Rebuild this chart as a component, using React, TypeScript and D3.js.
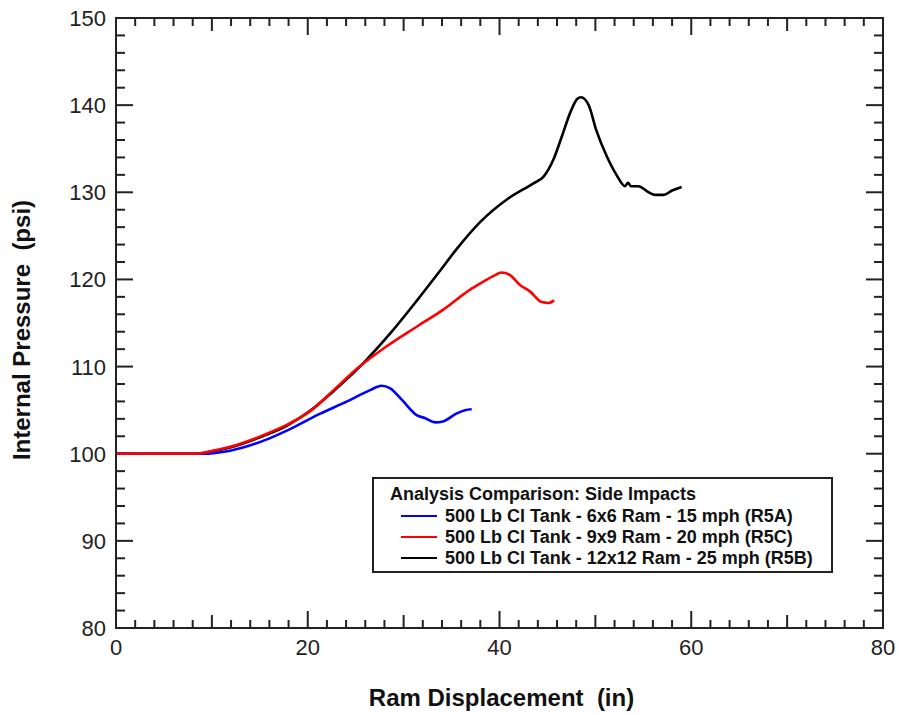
import React from "react";
import * as d3 from "d3";

const blueX = [0, 9, 11.9, 15.4, 18.1, 21.3, 24.1, 26.5, 27.7, 28.6, 29.8, 31.4, 32.2, 33.3, 34.1, 35.5, 36.4, 37.1];
const blueY = [100, 100, 100.35, 101.5, 102.8, 104.6, 106.0, 107.3, 107.8, 107.5, 106.2, 104.4, 104.1, 103.6, 103.7, 104.6, 105.0, 105.1];

const redX = [0, 8.5, 9.5, 11.9, 15.3, 17.8, 20.4, 22.7, 25.4, 28.2, 31.4, 34.1, 36.9, 38.1, 39.4, 40.2, 41.1, 42.1, 43.2, 44.4, 45.1, 45.7];
const redY = [100, 100, 100.2, 100.8, 102.1, 103.3, 105.0, 107.3, 110.0, 112.3, 114.6, 116.5, 118.8, 119.6, 120.4, 120.8, 120.5, 119.4, 118.6, 117.4, 117.3, 117.6];

const blackX = [0, 8.5, 9.5, 11.9, 15.3, 17.8, 20.2, 22.7, 25.8, 28.6, 31.4, 33.8, 35.4, 38.0, 40.8, 43.5, 44.6, 45.6, 46.5, 47.4, 48.1, 48.5, 49.3, 50.1, 51.2, 52.2, 53.1, 53.4, 53.7, 54.5, 55.4, 56.2, 57.1, 58.0, 59.0];
const blackY = [100, 100, 100.15, 100.7, 102.0, 103.2, 104.9, 107.2, 110.4, 113.8, 117.6, 121.0, 123.3, 126.6, 129.2, 131.0, 131.8, 133.7, 136.4, 139.2, 140.7, 140.9, 140.0, 137.1, 134.1, 132.0, 130.7, 131.1, 130.7, 130.7, 130.1, 129.7, 129.7, 130.2, 130.6];

const xTickLabels = [0, 20, 40, 60, 80];
const yTickLabels = [80, 90, 100, 110, 120, 130, 140, 150];

const seriesNames = [
  "500 Lb Cl Tank - 6x6 Ram - 15 mph (R5A)",
  "500 Lb Cl Tank - 9x9 Ram - 20 mph (R5C)",
  "500 Lb Cl Tank - 12x12 Ram - 25 mph (R5B)",
];
const seriesColors = ["#0000ff", "#ff0000", "#000000"];
const legendTitle = "Analysis Comparison: Side Impacts";
const xTitle = "Ram Displacement  (in)";
const yTitle = "Internal Pressure  (psi)";

const L = 116, R = 883, T = 18, B = 628;

export default function App() {
  const x = d3.scaleLinear().domain([0, 80]).range([L, R]);
  const y = d3.scaleLinear().domain([80, 150]).range([B, T]);
  const line = d3
    .line<[number, number]>()
    .x((d) => x(d[0]))
    .y((d) => y(d[1]))
    .curve(d3.curveMonotoneX);

  const zip = (xs: number[], ys: number[]) => xs.map((v, i) => [v, ys[i]] as [number, number]);
  const series = [zip(blueX, blueY), zip(redX, redY), zip(blackX, blackY)];

  const xTicks = d3.range(0, 81, 2);
  const yTicks = d3.range(80, 151, 2);
  const font = "Arial, 'Liberation Sans', sans-serif";

  const xLen = (v: number) => (v % 20 === 0 ? 17 : v % 10 === 0 ? 13 : 8);
  const yLen = (v: number) => (v % 10 === 0 ? 17 : 9);

  const legY = [516, 537, 558];
  const pre = { whiteSpace: "pre" as const };

  return (
    <svg width={899} height={715} style={{ position: "absolute", left: 0, top: 0, background: "#fff" }} fontFamily={font}>
      <rect x={0} y={0} width={899} height={715} fill="#fff" />
      {/* ticks */}
      <g stroke="#222" strokeWidth={2}>
        {xTicks.map((v) => (
          <g key={"xt" + v}>
            <line x1={x(v)} x2={x(v)} y1={B} y2={B - xLen(v)} />
            <line x1={x(v)} x2={x(v)} y1={T} y2={T + xLen(v)} />
          </g>
        ))}
        {yTicks.map((v) => (
          <g key={"yt" + v}>
            <line x1={L} x2={L + yLen(v)} y1={y(v)} y2={y(v)} />
            <line x1={R} x2={R - yLen(v)} y1={y(v)} y2={y(v)} />
          </g>
        ))}
      </g>
      {/* data */}
      <path d={line(series[2]) || ""} fill="none" stroke={seriesColors[2]} strokeWidth={2.6} />
      <path d={line(series[0]) || ""} fill="none" stroke={seriesColors[0]} strokeWidth={2.6} />
      <path d={line(series[1]) || ""} fill="none" stroke={seriesColors[1]} strokeWidth={2.6} />
      <rect x={L} y={T} width={R - L} height={B - T} fill="none" stroke="#222" strokeWidth={2} />
      {/* tick labels */}
      {xTickLabels.map((v) => (
        <text key={"xl" + v} x={x(v)} y={655} fontSize={22} textAnchor="middle" fill="#222">
          {v}
        </text>
      ))}
      {yTickLabels.map((v) => (
        <text key={"yl" + v} x={106} y={y(v) + 8} fontSize={22} textAnchor="end" fill="#222">
          {v}
        </text>
      ))}
      <text x={(L + R) / 2 + 2} y={706} fontSize={24} fontWeight="bold" textAnchor="middle" fill="#111" style={pre}>
        {xTitle}
      </text>
      <text
        transform={`translate(30, ${(T + B) / 2 + 7}) rotate(-90)`}
        fontSize={24}
        fontWeight="bold"
        textAnchor="middle"
        fill="#111"
        style={pre}
      >
        {yTitle}
      </text>
      {/* legend */}
      <rect x={373} y={478} width={459} height={94} fill="#fff" stroke="#222" strokeWidth={2} />
      <text x={390} y={500} fontSize={18} fontWeight="bold" fill="#111">
        {legendTitle}
      </text>
      {seriesNames.map((n, i) => (
        <g key={n}>
          <line x1={401} x2={437} y1={legY[i]} y2={legY[i]} stroke={seriesColors[i]} strokeWidth={2.2} />
          <text x={445} y={legY[i] + 6} fontSize={18} fontWeight="bold" fill="#111">
            {n}
          </text>
        </g>
      ))}
    </svg>
  );
}
